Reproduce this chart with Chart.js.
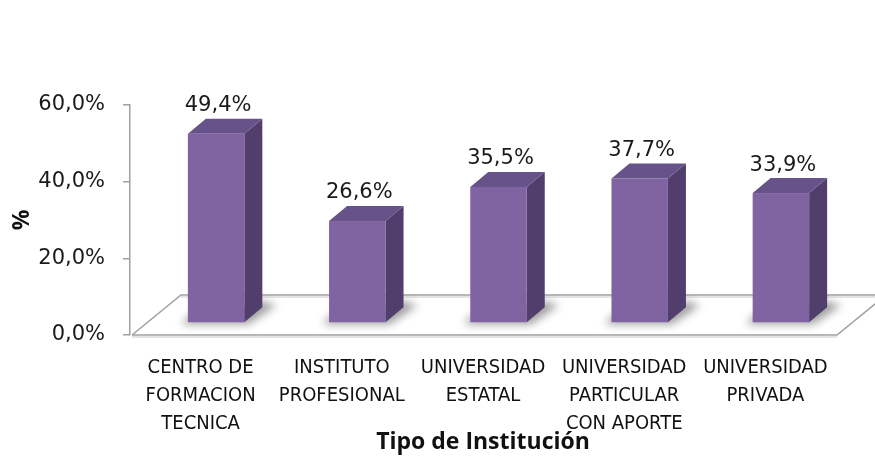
<!DOCTYPE html>
<html>
<head>
<meta charset="utf-8">
<script src="https://cdn.jsdelivr.net/npm/chart.js@4"></script>
<style>
  html, body { margin: 0; padding: 0; background: #fff; }
  #wrap { width: 875px; height: 466px; position: relative; }
</style>
</head>
<body>
<div id="wrap"><canvas id="c" width="875" height="466"></canvas></div>
<script>
const categories = [
  ['CENTRO DE', 'FORMACION', 'TECNICA'],
  ['INSTITUTO', 'PROFESIONAL'],
  ['UNIVERSIDAD', 'ESTATAL'],
  ['UNIVERSIDAD', 'PARTICULAR', 'CON APORTE'],
  ['UNIVERSIDAD', 'PRIVADA']
];
const values = [49.4, 26.6, 35.5, 37.7, 33.9];
const yTickValues = [0, 20, 40, 60];
const yTickLabels = ['0,0%', '20,0%', '40,0%', '60,0%'];
const xTitle = 'Tipo de Institución';
const yTitle = '%';

const FRONT = '#8064A2', TOP = '#68528A', SIDE = '#523E6C';
const AXIS_GRAY = '#a0a0a0';

function fmt(v) { return v.toFixed(1).replace('.', ',') + '%'; }

const bar3d = {
  id: 'bar3d',
  beforeDatasetsDraw(chart) {
    const ctx = chart.ctx;
    const ca = chart.chartArea;
    const y0 = chart.scales.y.getPixelForValue(0);
    const depthX = 49, depthY = 40;
    const xl = ca.left + 2, xr = ca.right + 1;
    ctx.save();
    ctx.lineWidth = 1.5;
    ctx.strokeStyle = '#dcdcdc';
    ctx.beginPath();
    ctx.moveTo(xl, y0 + 2); ctx.lineTo(xr, y0 + 2);
    ctx.moveTo(xl + depthX, y0 - depthY + 2); ctx.lineTo(xr + depthX, y0 - depthY + 2);
    ctx.stroke();
    ctx.strokeStyle = AXIS_GRAY;
    ctx.beginPath();
    ctx.moveTo(xl, y0);
    ctx.lineTo(xl + depthX, y0 - depthY);
    ctx.lineTo(xr + depthX, y0 - depthY);
    ctx.moveTo(xl, y0);
    ctx.lineTo(xr, y0);
    ctx.lineTo(xr + depthX, y0 - depthY);
    ctx.stroke();
    ctx.restore();
  },
  afterDatasetsDraw(chart) {
    const ctx = chart.ctx;
    const meta = chart.getDatasetMeta(0);
    const offX = 15.5, offY = -12, dX = 18, dY = 15;
    meta.data.forEach((bar, i) => {
      const w = bar.width;
      const xL = bar.x - w / 2 + offX, xR = bar.x + w / 2 + offX;
      const yT = bar.y + offY, yB = bar.base + offY;
      ctx.save();
      ctx.filter = 'blur(4px)';
      ctx.fillStyle = 'rgba(0,0,0,0.38)';
      ctx.beginPath();
      ctx.moveTo(xL - 6, yB + 2);
      ctx.lineTo(xR + 4, yB + 2);
      ctx.lineTo(xR + dX + 14, yB - dY - 2);
      ctx.lineTo(xR + dX, yB - dY - 6);
      ctx.lineTo(xL, yB - 6);
      ctx.closePath();
      ctx.fill();
      ctx.restore();

      ctx.save();
      ctx.fillStyle = SIDE;
      ctx.beginPath();
      ctx.moveTo(xR, yT); ctx.lineTo(xR + dX, yT - dY);
      ctx.lineTo(xR + dX, yB - dY); ctx.lineTo(xR, yB);
      ctx.closePath(); ctx.fill();
      ctx.fillStyle = TOP;
      ctx.beginPath();
      ctx.moveTo(xL, yT); ctx.lineTo(xL + dX, yT - dY);
      ctx.lineTo(xR + dX, yT - dY); ctx.lineTo(xR, yT);
      ctx.closePath(); ctx.fill();
      ctx.fillStyle = FRONT;
      ctx.fillRect(xL, yT, xR - xL, yB - yT);
      ctx.fillStyle = '#1a1a1a';
      ctx.font = '21px "DejaVu Sans", sans-serif';
      ctx.textAlign = 'center';
      ctx.textBaseline = 'middle';
      ctx.fillText(fmt(values[i]), (xL + xR) / 2 + 2, yT - dY - 13);
      ctx.restore();
    });
  }
};

new Chart(document.getElementById('c'), {
  type: 'bar',
  data: {
    labels: categories,
    datasets: [{
      data: values,
      backgroundColor: 'rgba(0,0,0,0)',
      borderWidth: 0,
      categoryPercentage: 1,
      barPercentage: 0.4
    }]
  },
  options: {
    responsive: false,
    animation: false,
    events: [],
    layout: { padding: { left: 0, right: 39, top: 105, bottom: 0 } },
    plugins: { legend: { display: false }, tooltip: { enabled: false }, title: { display: false } },
    scales: {
      x: {
        afterFit(s) { s.height = 131; },
        grid: { display: false, drawTicks: false },
        border: { display: false },
        ticks: {
          color: '#111',
          padding: 19,
          maxRotation: 0,
          autoSkip: false,
          font: { family: '"DejaVu Sans Condensed", "Liberation Sans Narrow", sans-serif', size: 20, lineHeight: '28px' }
        },
        title: {
          display: true,
          text: xTitle,
          color: '#111',
          padding: { top: 0, bottom: 10 },
          font: { family: '"Open Sans", sans-serif', size: 23, weight: 'bold', lineHeight: 1.2 }
        }
      },
      y: {
        min: 0,
        max: 60,
        afterFit(s) { s.width = 130; },
        afterBuildTicks(s) { s.ticks = yTickValues.map(v => ({ value: v })); },
        border: { display: true, color: AXIS_GRAY, width: 1.5 },
        grid: { display: true, drawOnChartArea: false, drawTicks: true, tickLength: 7, color: AXIS_GRAY, lineWidth: 1.5 },
        ticks: {
          color: '#1a1a1a',
          padding: 18,
          font: { family: '"DejaVu Sans", sans-serif', size: 21 },
          callback(v) { const k = yTickValues.indexOf(v); return k >= 0 ? yTickLabels[k] : ''; }
        },
        title: {
          display: true,
          text: yTitle,
          color: '#111',
          padding: { top: 9, bottom: 0 },
          font: { family: '"Open Sans", sans-serif', size: 23, weight: 'bold', lineHeight: 1.2 }
        }
      }
    }
  },
  plugins: [bar3d]
});
</script>
</body>
</html>
